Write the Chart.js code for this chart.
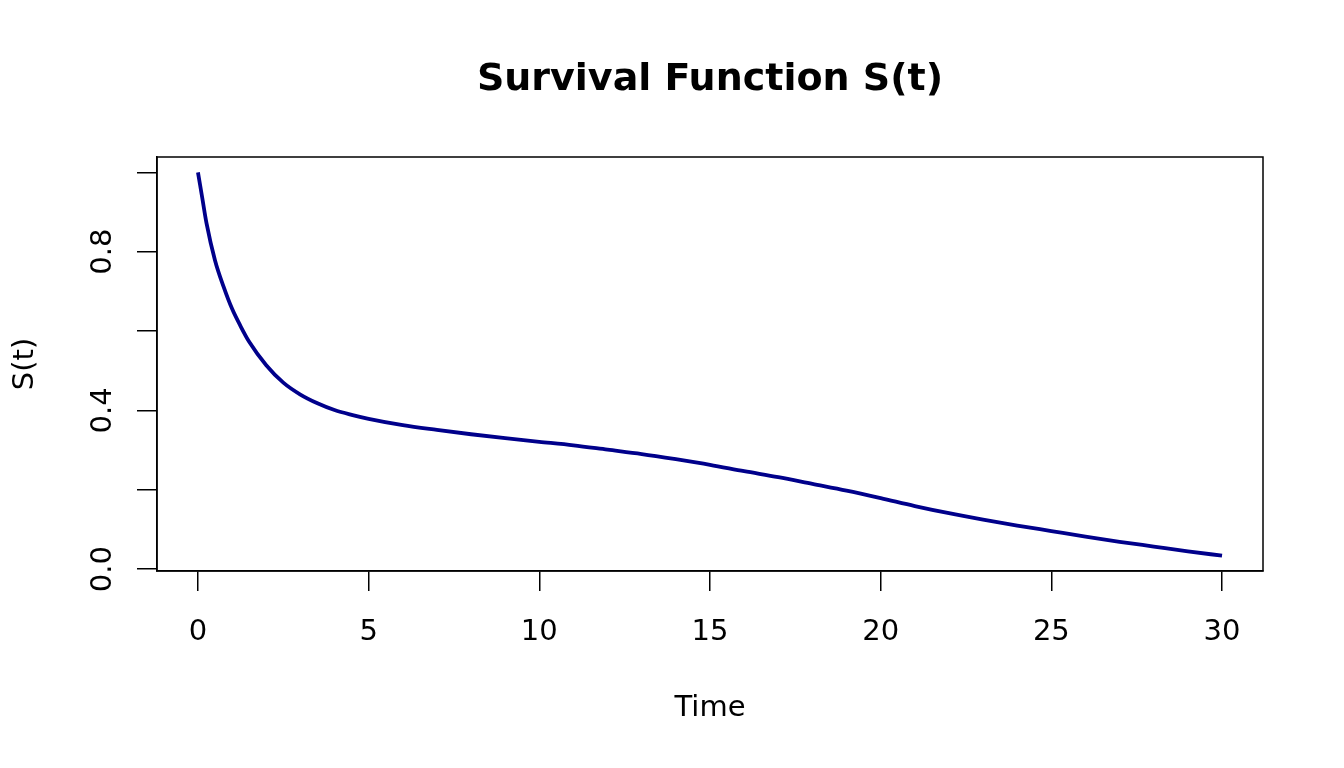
<!DOCTYPE html>
<html>
<head>
<meta charset="utf-8">
<script src="https://cdn.jsdelivr.net/npm/chart.js@4.4.1/dist/chart.umd.min.js"></script>
<style>
  html, body { margin: 0; padding: 0; background: #fff; }
  #wrap { width: 1344px; height: 768px; }
</style>
</head>
<body>
<div id="wrap"><canvas id="survival"></canvas></div>
<script>
// values
const times = [0, 0.125, 0.25, 0.5, 0.75, 1, 1.25, 1.5, 2, 2.5, 3, 3.5, 4, 4.5, 5, 6, 7, 8, 9, 10,
  11, 12, 13, 14, 15, 16, 17, 18, 19, 20, 21, 22, 23, 24, 25, 26, 27, 28, 29, 30]
const survival = [1.0, 0.936, 0.872, 0.778, 0.712, 0.656, 0.612, 0.573, 0.514, 0.470, 0.440, 0.418, 0.401, 0.389, 0.379, 0.363, 0.351, 0.340, 0.330, 0.321,
  0.312, 0.301, 0.290, 0.277, 0.263, 0.247, 0.232, 0.215, 0.198, 0.179, 0.159, 0.141, 0.125, 0.110, 0.096, 0.082, 0.069, 0.057, 0.045, 0.034]
const xTicks = [0, 5, 10, 15, 20, 25, 30]
const yTicks = [0, 0.2, 0.4, 0.6, 0.8, 1.0]
const yLabelled = [0, 0.4, 0.8]

const font = 'DejaVu Sans'

// R style box around the plot region
const boxPlugin = {
  id: 'box',
  afterDraw(chart) {
    const a = chart.chartArea
    const ctx = chart.ctx
    ctx.save()
    ctx.strokeStyle = '#000'
    ctx.lineWidth = 1.5
    ctx.strokeRect(a.left, a.top, a.right - a.left, a.bottom - a.top)
    ctx.restore()
  }
}

const ctx = document.getElementById('survival').getContext('2d')
new Chart(ctx, {
  type: 'line',
  data: {
    datasets: [{
      label: 'S(t)',
      data: times.map((t, i) => ({ x: t, y: survival[i] })),
      borderColor: '#00008B',
      borderWidth: 3.8,
      pointRadius: 0,
      fill: false,
      cubicInterpolationMode: 'monotone'
    }]
  },
  options: {
    responsive: true,
    maintainAspectRatio: false,
    animation: false,
    layout: { padding: { left: 0, top: 0, right: 81, bottom: 0 } },
    plugins: {
      legend: { display: false },
      tooltip: { enabled: false },
      title: {
        display: true,
        fullSize: false,
        text: 'Survival Function S(t)',
        color: '#000',
        font: { family: font, size: 38, weight: 'bold' },
        padding: { top: 57, bottom: 54.4 }
      }
    },
    scales: {
      x: {
        type: 'linear',
        min: -1.2,
        max: 31.2,
        afterBuildTicks: s => { s.ticks = xTicks.map(v => ({ value: v })) },
        afterFit: s => { s.height = 197 },
        grid: { display: true, drawOnChartArea: false, drawTicks: true, tickLength: 20, color: '#000', lineWidth: 1.5 },
        border: { display: true, color: '#000', width: 1.5 },
        ticks: {
          color: '#000',
          font: { family: font, size: 29 },
          padding: 24,
          maxRotation: 0,
          autoSkip: false,
          callback: v => String(v)
        },
        title: {
          display: true,
          text: 'Time',
          color: '#000',
          font: { family: font, size: 29 },
          padding: { top: 0, bottom: 42 }
        }
      },
      y: {
        type: 'linear',
        min: -0.0046,
        max: 1.0386,
        afterBuildTicks: s => { s.ticks = yTicks.map(v => ({ value: v })) },
        afterFit: s => { s.width = 157 },
        grid: { display: true, drawOnChartArea: false, drawTicks: true, tickLength: 20, color: '#000', lineWidth: 1.5 },
        border: { display: true, color: '#000', width: 1.5 },
        ticks: {
          color: '#000',
          font: { family: font, size: 29 },
          padding: 10,
          minRotation: 90,
          maxRotation: 90,
          crossAlign: 'center',
          autoSkip: false,
          callback: v => yLabelled.some(l => Math.abs(l - v) < 1e-9) ? v.toFixed(1) : ''
        },
        title: {
          display: true,
          text: 'S(t)',
          color: '#000',
          font: { family: font, size: 29 },
          padding: { top: 8, bottom: 0 }
        }
      }
    }
  },
  plugins: [boxPlugin]
})
</script>
</body>
</html>
